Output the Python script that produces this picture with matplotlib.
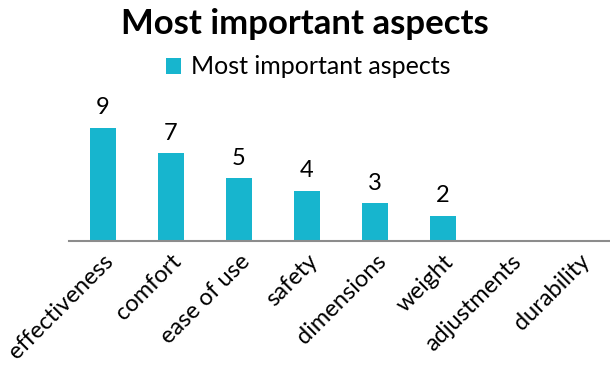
import matplotlib.pyplot as plt

plt.rcParams['font.family'] = ['Lato', 'DejaVu Sans']

aspects = ['effectiveness', 'comfort', 'ease of use', 'safety',
           'dimensions', 'weight', 'adjustments', 'durability']
counts = [9, 7, 5, 4, 3, 2, 0, 0]
series_name = 'Most important aspects'

fig = plt.figure(figsize=(6.1, 3.68), dpi=100)
ax = fig.add_axes([0.113, 0.345, 0.892, 0.342])

bars = ax.bar(range(len(aspects)), counts, width=0.37, color='#17B5CE', label=series_name)
for x, v in enumerate(counts):
    if v > 0:
        ax.text(x, v + 0.75, str(v), ha='center', va='bottom', fontsize=17)

ax.set_xlim(-0.5, 7.5)
ax.set_ylim(0, 10)
ax.set_xticks(range(len(aspects)))
ax.set_xticklabels(aspects, rotation=45, ha='right', rotation_mode='anchor', fontsize=17)
ax.tick_params(axis='x', length=0, pad=7)
ax.set_yticks([])
for s in ['top', 'right', 'left']:
    ax.spines[s].set_visible(False)
ax.spines['bottom'].set_color('#8c8c8c')
ax.spines['bottom'].set_linewidth(1.5)

fig.text(0.5, 0.935, 'Most important aspects', ha='center', va='center',
         fontsize=25, fontweight='bold')
fig.legend(handles=[bars], labels=[series_name], loc='center',
           bbox_to_anchor=(0.505, 0.818), frameon=False, fontsize=18,
           handlelength=0.6, handleheight=0.6, handletextpad=0.4)

fig.savefig('out.png', dpi=100, facecolor='white')
